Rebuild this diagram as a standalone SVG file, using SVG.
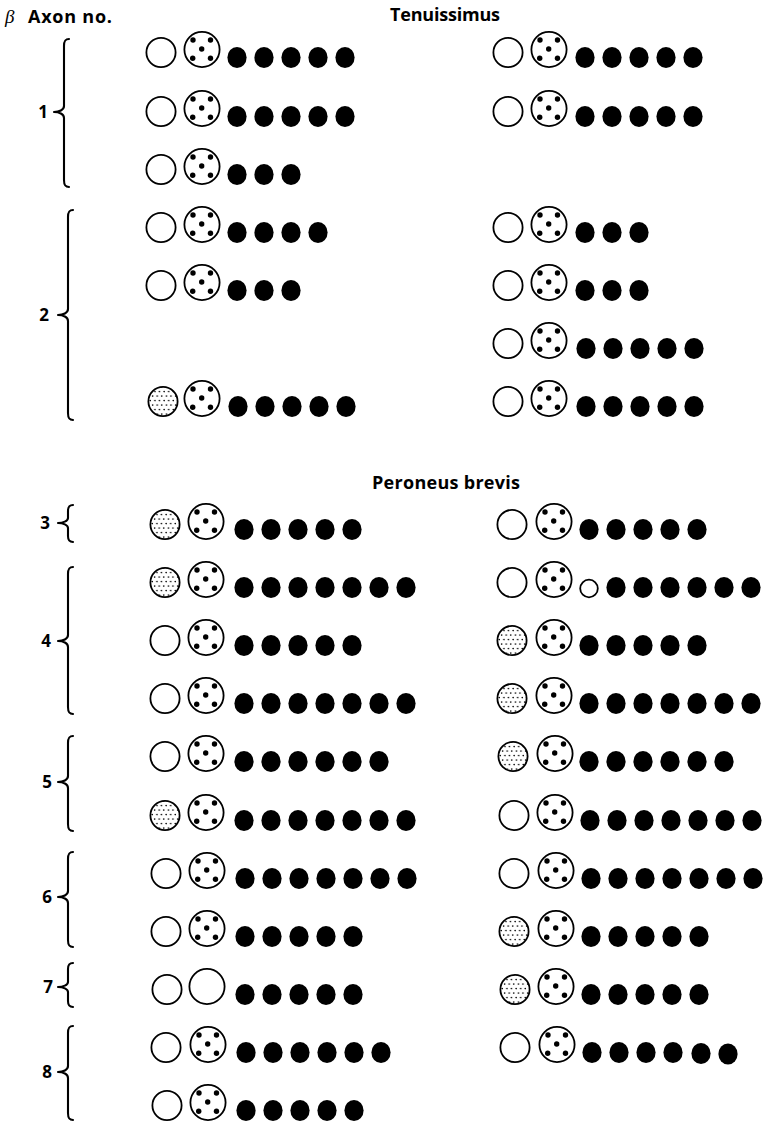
<svg xmlns="http://www.w3.org/2000/svg" xmlns:xlink="http://www.w3.org/1999/xlink" width="767" height="1122" viewBox="0 0 767 1122">
<style>
.ln{fill:#fff;stroke:#000;stroke-width:1.8}
.br{fill:none;stroke:#000;stroke-width:2.1;stroke-linecap:round;stroke-linejoin:round}
.t{font-family:"Open Sans","Liberation Sans",sans-serif;font-weight:bold;font-size:18px;fill:#000}
.n{font-family:"Open Sans","Liberation Sans",sans-serif;font-weight:bold;font-size:17px;fill:#000;text-anchor:middle}
</style>
<defs>
<pattern id="stip" width="4.6" height="9" patternUnits="userSpaceOnUse">
<rect width="4.6" height="9" fill="#fff"/>
<circle cx="1.1" cy="1.6" r="0.8" fill="#000"/>
<circle cx="3.4" cy="6.1" r="0.8" fill="#000"/>
</pattern>
<g id="o"><circle cy="-15.5" r="14.6" class="ln"/></g>
<g id="e"><circle cy="-18.5" r="17.6" class="ln"/></g>
<g id="s"><circle cy="-15.5" r="14.6" class="ln" style="fill:url(#stip)"/></g>
<g id="d"><circle cy="-18.5" r="17.6" class="ln"/>
<circle cx="-9" cy="-28" r="2.7"/><circle cx="8.5" cy="-28" r="2.7"/><circle cx="-0.3" cy="-19" r="2.7"/><circle cx="-9.3" cy="-9.7" r="2.7"/><circle cx="8.5" cy="-9.7" r="2.7"/></g>
<g id="k"><ellipse cy="-10.5" rx="9.6" ry="10.5" fill="#000"/></g>
<g id="m"><circle cy="-9.5" r="8.8" class="ln"/></g>
</defs>
<rect width="767" height="1122" fill="#fff"/>

<g id="headers">
<text x="5" y="23" font-family="Liberation Serif,serif" font-style="italic" font-size="19">β</text>
<text class="t" x="28" y="23" textLength="84">Axon no.</text>
<text class="t" x="390" y="20.5" textLength="110">Tenuissimus</text>
<text class="t" x="372" y="489" textLength="148">Peroneus brevis</text>
</g>

<g id="braces">
<path class="br" d="M69,39 C65,39 64,41 64,46 L64,106 C64,110 59,112 54,112 C59,112 64,114 64,118 L64,180 C64,185 65,187 69,187"/>
<path class="br" d="M73,210 C69,210 68,212 68,217 L68,309 C68,313 63,315 58,315 C63,315 68,317 68,321 L68,413 C68,418 69,420 73,420"/>
<path class="br" d="M73,505 C69,505 68,507 68,511 L68,518 C68,521 63,523 58,523 C63,523 68,525 68,528 L68,536 C68,540 69,542 73,542"/>
<path class="br" d="M73,567 C69,567 68,569 68,574 L68,635 C68,639 63,641 58,641 C63,641 68,643 68,647 L68,707 C68,712 69,714 73,714"/>
<path class="br" d="M73,736 C69,736 68,738 68,743 L68,776 C68,780 63,782 58,782 C63,782 68,784 68,788 L68,824 C68,829 69,831 73,831"/>
<path class="br" d="M73,852 C69,852 68,854 68,859 L68,891 C68,895 63,897 58,897 C63,897 68,899 68,903 L68,940 C68,945 69,947 73,947"/>
<path class="br" d="M73,963 C69,963 68,965 68,969 L68,982 C68,985 63,987 58,987 C63,987 68,989 68,992 L68,1001 C68,1005 69,1007 73,1007"/>
<path class="br" d="M73,1026 C69,1026 68,1028 68,1033 L68,1066 C68,1070 63,1072 58,1072 C63,1072 68,1074 68,1078 L68,1113 C68,1118 69,1120 73,1120"/>
</g>

<g id="labels">
<text class="n" x="43" y="118">1</text>
<text class="n" x="44" y="321">2</text>
<text class="n" x="45" y="529">3</text>
<text class="n" x="46" y="647">4</text>
<text class="n" x="47" y="788">5</text>
<text class="n" x="47" y="903">6</text>
<text class="n" x="48" y="993">7</text>
<text class="n" x="47" y="1078">8</text>
</g>

<!-- Tenuissimus left -->
<g id="t-l-1a" transform="translate(0,68)"><use href="#o" x="161"/><use href="#d" x="202"/><use href="#k" x="237"/><use href="#k" x="264"/><use href="#k" x="291"/><use href="#k" x="318"/><use href="#k" x="345"/></g>
<g id="t-l-1b" transform="translate(0,127)"><use href="#o" x="161"/><use href="#d" x="202"/><use href="#k" x="237"/><use href="#k" x="264"/><use href="#k" x="291"/><use href="#k" x="318"/><use href="#k" x="345"/></g>
<g id="t-l-1c" transform="translate(0,185)"><use href="#o" x="161"/><use href="#d" x="202"/><use href="#k" x="237"/><use href="#k" x="264"/><use href="#k" x="291"/></g>
<g id="t-l-2a" transform="translate(0,243)"><use href="#o" x="161"/><use href="#d" x="202"/><use href="#k" x="237"/><use href="#k" x="264"/><use href="#k" x="291"/><use href="#k" x="318"/></g>
<g id="t-l-2b" transform="translate(0,301)"><use href="#o" x="161"/><use href="#d" x="202"/><use href="#k" x="237"/><use href="#k" x="264"/><use href="#k" x="291"/></g>
<g id="t-l-2c" transform="translate(0,417)"><use href="#s" x="163"/><use href="#d" x="202"/><use href="#k" x="238"/><use href="#k" x="265"/><use href="#k" x="292"/><use href="#k" x="319"/><use href="#k" x="346"/></g>

<!-- Tenuissimus right -->
<g id="t-r-1a" transform="translate(0,68)"><use href="#o" x="508"/><use href="#d" x="549"/><use href="#k" x="585"/><use href="#k" x="612"/><use href="#k" x="639"/><use href="#k" x="666"/><use href="#k" x="693"/></g>
<g id="t-r-1b" transform="translate(0,127)"><use href="#o" x="508"/><use href="#d" x="549"/><use href="#k" x="585"/><use href="#k" x="612"/><use href="#k" x="639"/><use href="#k" x="666"/><use href="#k" x="693"/></g>
<g id="t-r-2a" transform="translate(0,243)"><use href="#o" x="508"/><use href="#d" x="549"/><use href="#k" x="585"/><use href="#k" x="612"/><use href="#k" x="639"/></g>
<g id="t-r-2b" transform="translate(0,301)"><use href="#o" x="508"/><use href="#d" x="549"/><use href="#k" x="585"/><use href="#k" x="612"/><use href="#k" x="639"/></g>
<g id="t-r-2c" transform="translate(0,359)"><use href="#o" x="508"/><use href="#d" x="549"/><use href="#k" x="586"/><use href="#k" x="613"/><use href="#k" x="640"/><use href="#k" x="667"/><use href="#k" x="694"/></g>
<g id="t-r-2d" transform="translate(0,417)"><use href="#o" x="508"/><use href="#d" x="549"/><use href="#k" x="586"/><use href="#k" x="613"/><use href="#k" x="640"/><use href="#k" x="667"/><use href="#k" x="694"/></g>

<!-- Peroneus left -->
<g id="p-l-3" transform="translate(0,540)"><use href="#s" x="165"/><use href="#d" x="206"/><use href="#k" x="244"/><use href="#k" x="271"/><use href="#k" x="298"/><use href="#k" x="325"/><use href="#k" x="352"/></g>
<g id="p-l-4a" transform="translate(0,598)"><use href="#s" x="165"/><use href="#d" x="206"/><use href="#k" x="244"/><use href="#k" x="271"/><use href="#k" x="298"/><use href="#k" x="325"/><use href="#k" x="352"/><use href="#k" x="379"/><use href="#k" x="406"/></g>
<g id="p-l-4b" transform="translate(0,656)"><use href="#o" x="165"/><use href="#d" x="206"/><use href="#k" x="244"/><use href="#k" x="271"/><use href="#k" x="298"/><use href="#k" x="325"/><use href="#k" x="352"/></g>
<g id="p-l-4c" transform="translate(0,714)"><use href="#o" x="165"/><use href="#d" x="206"/><use href="#k" x="244"/><use href="#k" x="271"/><use href="#k" x="298"/><use href="#k" x="325"/><use href="#k" x="352"/><use href="#k" x="379"/><use href="#k" x="406"/></g>
<g id="p-l-5a" transform="translate(0,772)"><use href="#o" x="165"/><use href="#d" x="206"/><use href="#k" x="244"/><use href="#k" x="271"/><use href="#k" x="298"/><use href="#k" x="325"/><use href="#k" x="352"/><use href="#k" x="379"/></g>
<g id="p-l-5b" transform="translate(0,831)"><use href="#s" x="165"/><use href="#d" x="206"/><use href="#k" x="244"/><use href="#k" x="271"/><use href="#k" x="298"/><use href="#k" x="325"/><use href="#k" x="352"/><use href="#k" x="379"/><use href="#k" x="406"/></g>
<g id="p-l-6a" transform="translate(0,889)"><use href="#o" x="166"/><use href="#d" x="207"/><use href="#k" x="245"/><use href="#k" x="272"/><use href="#k" x="299"/><use href="#k" x="326"/><use href="#k" x="353"/><use href="#k" x="380"/><use href="#k" x="407"/></g>
<g id="p-l-6b" transform="translate(0,947)"><use href="#o" x="166"/><use href="#d" x="207"/><use href="#k" x="245"/><use href="#k" x="272"/><use href="#k" x="299"/><use href="#k" x="326"/><use href="#k" x="353"/></g>
<g id="p-l-7" transform="translate(0,1005)"><use href="#o" x="167"/><use href="#e" x="207"/><use href="#k" x="245"/><use href="#k" x="272"/><use href="#k" x="299"/><use href="#k" x="326"/><use href="#k" x="353"/></g>
<g id="p-l-8a" transform="translate(0,1063)"><use href="#o" x="166"/><use href="#d" x="208"/><use href="#k" x="246"/><use href="#k" x="273"/><use href="#k" x="300"/><use href="#k" x="327"/><use href="#k" x="354"/><use href="#k" x="381"/></g>
<g id="p-l-8b" transform="translate(0,1121)"><use href="#o" x="167"/><use href="#d" x="208"/><use href="#k" x="246"/><use href="#k" x="273"/><use href="#k" x="300"/><use href="#k" x="327"/><use href="#k" x="354"/></g>

<!-- Peroneus right -->
<g id="p-r-3" transform="translate(0,540)"><use href="#o" x="512"/><use href="#d" x="554"/><use href="#k" x="589"/><use href="#k" x="616"/><use href="#k" x="643"/><use href="#k" x="670"/><use href="#k" x="697"/></g>
<g id="p-r-4a" transform="translate(0,598)"><use href="#o" x="512"/><use href="#d" x="554"/><use href="#m" x="589"/><use href="#k" x="616"/><use href="#k" x="643"/><use href="#k" x="670"/><use href="#k" x="697"/><use href="#k" x="724"/><use href="#k" x="751"/></g>
<g id="p-r-4b" transform="translate(0,656)"><use href="#s" x="512"/><use href="#d" x="554"/><use href="#k" x="589"/><use href="#k" x="616"/><use href="#k" x="643"/><use href="#k" x="670"/><use href="#k" x="697"/></g>
<g id="p-r-4c" transform="translate(0,714)"><use href="#s" x="512"/><use href="#d" x="554"/><use href="#k" x="589"/><use href="#k" x="616"/><use href="#k" x="643"/><use href="#k" x="670"/><use href="#k" x="697"/><use href="#k" x="724"/><use href="#k" x="751"/></g>
<g id="p-r-5a" transform="translate(0,772)"><use href="#s" x="513"/><use href="#d" x="555"/><use href="#k" x="589"/><use href="#k" x="616"/><use href="#k" x="643"/><use href="#k" x="670"/><use href="#k" x="697"/><use href="#k" x="724"/></g>
<g id="p-r-5b" transform="translate(0,831)"><use href="#o" x="514"/><use href="#d" x="555"/><use href="#k" x="590"/><use href="#k" x="617"/><use href="#k" x="644"/><use href="#k" x="671"/><use href="#k" x="698"/><use href="#k" x="725"/><use href="#k" x="752"/></g>
<g id="p-r-6a" transform="translate(0,889)"><use href="#o" x="514"/><use href="#d" x="556"/><use href="#k" x="591"/><use href="#k" x="618"/><use href="#k" x="645"/><use href="#k" x="672"/><use href="#k" x="699"/><use href="#k" x="726"/><use href="#k" x="753"/></g>
<g id="p-r-6b" transform="translate(0,947)"><use href="#s" x="514"/><use href="#d" x="556"/><use href="#k" x="591"/><use href="#k" x="618"/><use href="#k" x="645"/><use href="#k" x="672"/><use href="#k" x="699"/></g>
<g id="p-r-7" transform="translate(0,1005)"><use href="#s" x="515"/><use href="#d" x="556"/><use href="#k" x="591"/><use href="#k" x="618"/><use href="#k" x="645"/><use href="#k" x="672"/><use href="#k" x="699"/></g>
<g id="p-r-8a" transform="translate(0,1063)"><use href="#o" x="515"/><use href="#d" x="557"/><use href="#k" x="592"/><use href="#k" x="619"/><use href="#k" x="646"/><use href="#k" x="673"/><use href="#k" x="701" y="1"/><use href="#k" x="728" y="1.5"/></g>
</svg>
